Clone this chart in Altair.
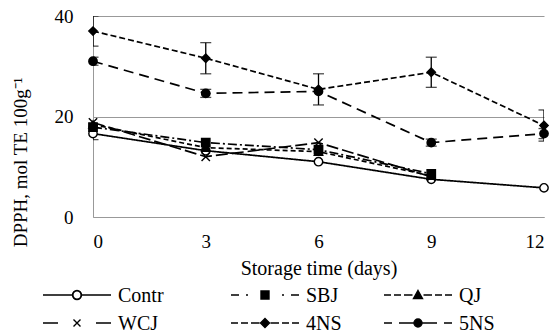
import altair as alt
import pandas as pd

# ---- data ----
days = [0, 3, 6, 9, 12]
series = ["Contr", "SBJ", "QJ", "WCJ", "4NS", "5NS"]

contr = [16.6, 13.2, 11.0, 7.5, 5.8]
sbj = [17.9, 14.8, 13.4, 8.6, None]
qj = [18.4, 13.8, 13.0, 8.2, None]
wcj = [18.8, 12.0, 14.8, 8.0, None]
ns4 = [37.0, 31.6, 25.4, 28.8, 18.2]
ns5 = [31.0, 24.6, 25.0, 14.8, 16.6]

err_contr = [1.2, 0, 0, 0, 0]
err_sbj = [0, 0, 0, 0, 0]
err_qj = [0, 0, 0, 0, 0]
err_wcj = [0, 0, 0, 0, 0]
err_4ns = [3.0, 3.1, 3.1, 3.0, 3.1]
err_5ns = [0.8, 0.8, 0, 0.7, 1.0]

values = {"Contr": contr, "SBJ": sbj, "QJ": qj, "WCJ": wcj, "4NS": ns4, "5NS": ns5}
errors = {"Contr": err_contr, "SBJ": err_sbj, "QJ": err_qj, "WCJ": err_wcj,
          "4NS": err_4ns, "5NS": err_5ns}

rows = []
for s in series:
    for d, v, e in zip(days, values[s], errors[s]):
        if v is not None:
            rows.append({"series": s, "day": d, "value": v, "err": e,
                         "lo": v - e, "hi": v + e})
df = pd.DataFrame(rows)

# legend table: 3 columns x 2 rows, filled row by row
legend_df = pd.DataFrame({
    "series": series,
    "col": [i % 3 for i in range(len(series))],
    "row": [i // 3 for i in range(len(series))],
})

FONT = "Liberation Serif"

# styles
dash_range = [[1, 0], [9, 3, 2, 3], [5, 3], [12, 4], [6, 3], [10, 6]]
cross_x = "M-1,-1L1,1M1,-1L-1,1"
marker_shape = {"Contr": "circle", "SBJ": "square", "QJ": "triangle-up",
                "WCJ": cross_x, "4NS": "diamond", "5NS": "circle"}
marker_fill = {"Contr": "white", "SBJ": "black", "QJ": "black",
               "WCJ": "transparent", "4NS": "black", "5NS": "black"}


def seg(a, b):
    return f"M{a},0H{b}"


def circ(cx, r, sweep):
    return (f"M{cx + r},0A{r},{r} 0 1,{sweep} {cx - r},0"
            f"A{r},{r} 0 1,{sweep} {cx + r},0Z")


c = 34
short_l = seg(0, 7) + seg(10, 17) + seg(20, 28.5)
short_r = seg(39.5, 48) + seg(51, 58) + seg(61, 68)
legend_paths = [
    seg(0, 29.5) + seg(38.5, 68) + circ(c, 4.5, 1) + circ(c, 4.1, 0),
    seg(0, 8) + seg(15, 17) + f"M{c-4},-4H{c+4}V4H{c-4}Z" + seg(51, 53) + seg(60, 68),
    short_l + f"M{c},-4.5L{c+4.5},3.5H{c-4.5}Z" + short_r,
    seg(0, 15) + f"M{c-3.5},-3.5L{c+3.5},3.5M{c+3.5},-3.5L{c-3.5},3.5" + seg(53, 68),
    short_l + f"M{c},-4.5L{c+4.5},0L{c},4.5L{c-4.5},0Z" + short_r,
    seg(0, 8) + seg(15, 30) + circ(c, 4, 1) + seg(38, 53) + seg(60, 68),
]

x_scale = alt.Scale(domain=[0, 12], nice=False)
y_scale = alt.Scale(domain=[0, 40], nice=False)

x_enc = alt.X("day:Q", scale=x_scale,
              axis=alt.Axis(values=days, title="Storage time (days)", grid=False,
                            ticks=False, labelPadding=15, domainColor="#999999",
                            titleY=57, titleBaseline="alphabetic",
                            titleColor="black", labelColor="black"))
y_enc = alt.Y("value:Q", scale=y_scale,
              axis=alt.Axis(values=[0, 20, 40], title="DPPH, mol TE 100g\u207b\u00b9",
                            grid=True, gridColor="#999999", ticks=False,
                            labelPadding=20, domainColor="#999999",
                            titleX=-73, titleY=146, titleBaseline="middle",
                            titleAngle=-90, titleFontSize=19,
                            titleColor="black", labelColor="black"))

base = alt.Chart(df)

lines = base.mark_line(color="black", strokeWidth=1.7).encode(
    x=x_enc, y=y_enc,
    detail="series:N",
    strokeDash=alt.StrokeDash("series:N",
                              scale=alt.Scale(domain=series, range=dash_range),
                              legend=None),
)

err_data = base.transform_filter("datum.err > 0")
err_rules = err_data.mark_rule(color="black", strokeWidth=1.3, clip=True).encode(
    x="day:Q", y="lo:Q", y2="hi:Q")
cap_lo = err_data.mark_tick(color="black", orient="horizontal", size=11,
                            thickness=1.3, clip=True).encode(x="day:Q", y="lo:Q")
cap_hi = err_data.mark_tick(color="black", orient="horizontal", size=11,
                            thickness=1.3, clip=True).encode(x="day:Q", y="hi:Q")

point_layers = []
for s in series:
    point_layers.append(
        base.transform_filter(alt.datum.series == s).mark_point(
            shape=marker_shape[s], fill=marker_fill[s], stroke="black",
            strokeWidth=1.4, size=70, opacity=1,
        ).encode(x="day:Q", y="value:Q")
    )

main = alt.layer(lines, err_rules, cap_lo, cap_hi, *point_layers)

# legend drawn from the legend table through its own scales
leg_x = alt.X("col:Q", scale=alt.Scale(domain=[0, 1, 2], range=[-50, 138, 291]),
              axis=None)
leg_y = alt.Y("row:Q", scale=alt.Scale(domain=[0, 1], range=[279, 307]), axis=None)
leg_base = alt.Chart(legend_df)
leg_symbols = leg_base.mark_point(
    filled=True, fill="black", stroke="black", strokeWidth=1.4, size=4, opacity=1
).encode(
    x=leg_x, y=leg_y,
    shape=alt.Shape("series:N", scale=alt.Scale(domain=series, range=legend_paths),
                    legend=None),
)
leg_labels = leg_base.mark_text(
    align="left", baseline="middle", dx=75, dy=1, font=FONT, fontSize=20, color="black"
).encode(x=leg_x, y=leg_y, text="series:N")
legend = alt.layer(leg_symbols, leg_labels)

chart = alt.layer(main, legend).resolve_scale(
    x="independent", y="independent", shape="independent"
).properties(
    width=451, height=201,
    background="white",
    autosize=alt.AutoSizeParams(type="none"),
    padding={"left": 93, "top": 16, "right": 12, "bottom": 119},
).configure_view(stroke=None).configure_axis(
    labelFont=FONT, labelFontSize=19, labelColor="black",
    titleFont=FONT, titleFontSize=20, titleColor="black", titleFontWeight="normal",
)

chart.save("out.html", embed_options={"renderer": "svg", "actions": False})
